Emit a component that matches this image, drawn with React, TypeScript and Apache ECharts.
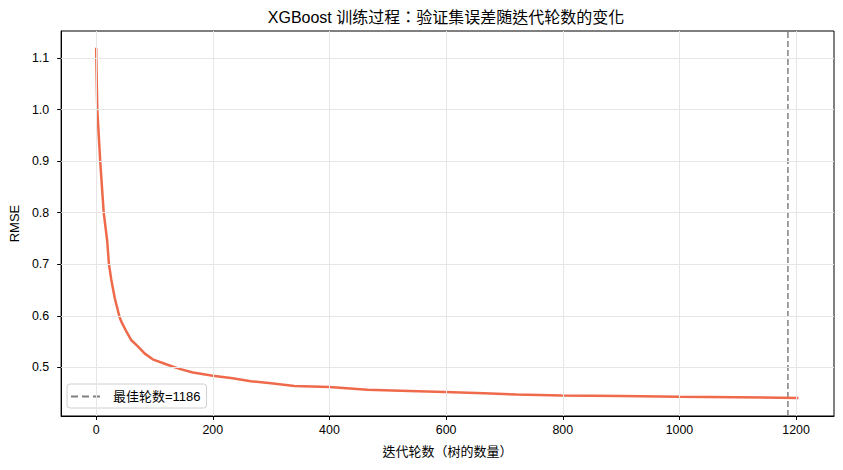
import React, { useEffect, useRef } from "react";
import * as echarts from "echarts";

const iterations = [0, 2, 7, 13, 19, 22, 26, 32, 40, 43, 52, 60, 72, 83, 97, 120, 143, 166, 200, 234, 265, 300, 340, 400, 465, 522, 598, 665, 721, 798, 900, 1000, 1100, 1204];
const rmse = [1.12, 1.0, 0.9, 0.8, 0.745, 0.70, 0.67, 0.634, 0.598, 0.589, 0.569, 0.553, 0.54, 0.527, 0.5155, 0.506, 0.497, 0.49, 0.4837, 0.4786, 0.473, 0.469, 0.4637, 0.4617, 0.4565, 0.4546, 0.452, 0.4495, 0.447, 0.4455, 0.4445, 0.443, 0.442, 0.4404];
const xTicks = [0, 200, 400, 600, 800, 1000, 1200];
const yTicks = [0.5, 0.6, 0.7, 0.8, 0.9, 1.0, 1.1];
const bestRound = 1186;
const bestLabel = "最佳轮数=1186";
const titleText = "XGBoost 训练过程：验证集误差随迭代轮数的变化";
const xName = "迭代轮数（树的数量）";
const yName = "RMSE";
const xRange = [-60, 1265];
const yRange = [0.4055, 1.1525];

const FONT = "Liberation Sans, Arial, Noto Sans CJK TC, Noto Sans CJK SC, sans-serif";
const FS = 12.4;

export default function App() {
  const ref = useRef<HTMLDivElement>(null);
  useEffect(() => {
    if (!ref.current) return;
    const chart = echarts.init(ref.current, null, { renderer: "svg" });
    const lineData = iterations.map((x, i) => [x, rmse[i]]);
    const gridLines = [
      ...xTicks.map((v) => ({ xAxis: v })),
      ...yTicks.map((v) => ({ yAxis: v })),
    ];
    chart.setOption({
      animation: false,
      backgroundColor: "#fff",
      textStyle: { fontFamily: FONT },
      grid: {
        left: 60,
        right: 9,
        top: 31,
        bottom: 54,
        show: true,
        borderColor: "#000",
        borderWidth: 1,
        backgroundColor: "transparent",
      },
      graphic: [
        {
          type: "text",
          x: 446,
          y: 17,
          style: {
            text: titleText,
            fill: "#000",
            fontSize: 16,
            fontFamily: FONT,
            textAlign: "center",
            textVerticalAlign: "middle",
          },
        },
      ],
      legend: {
        data: [
          {
            name: bestLabel,
            icon: "path://M0 0h7v2h-7z M11 0h7v2h-7z M22 0h7v2h-7z",
          },
        ],
        left: 67,
        top: 384,
        orient: "vertical",
        backgroundColor: "#fff",
        borderColor: "#d0d0d0",
        borderWidth: 1,
        borderRadius: 3,
        padding: [6, 6, 5, 4],
        itemWidth: 29,
        itemHeight: 2,
        itemGap: 4,
        textStyle: { fontSize: 13, color: "#000", fontFamily: FONT, padding: [0, 0, 0, 8] },
      },
      xAxis: {
        type: "value",
        min: xRange[0],
        max: xRange[1],
        name: xName,
        nameLocation: "middle",
        nameGap: 29,
        nameTextStyle: { fontSize: 13, color: "#000", fontFamily: FONT },
        axisLine: { show: true, onZero: false, lineStyle: { color: "#000", width: 1 } },
        axisTick: { show: true, length: 4, customValues: xTicks, lineStyle: { color: "#000" } },
        axisLabel: {
          fontSize: FS,
          color: "#000",
          margin: 8,
          customValues: xTicks,
          formatter: (v: number) => String(v),
        },
        splitLine: { show: false },
      },
      yAxis: {
        type: "value",
        min: yRange[0],
        max: yRange[1],
        name: yName,
        nameLocation: "middle",
        nameGap: 38,
        nameTextStyle: { fontSize: 13, color: "#000", fontFamily: FONT },
        axisLine: { show: true, onZero: false, lineStyle: { color: "#000", width: 1 } },
        axisTick: { show: true, length: 4, customValues: yTicks, lineStyle: { color: "#000" } },
        axisLabel: {
          fontSize: FS,
          color: "#000",
          margin: 12,
          customValues: yTicks,
          formatter: (v: number) => v.toFixed(1),
        },
        splitLine: { show: false },
      },
      series: [
        {
          name: "__grid",
          type: "line",
          data: [[xRange[0], yRange[0]]],
          symbol: "none",
          showSymbol: false,
          lineStyle: { width: 0 },
          silent: true,
          z: 1,
          markLine: {
            silent: true,
            symbol: "none",
            label: { show: false },
            lineStyle: { color: "#e6e6e6", width: 1, type: "solid" },
            emphasis: { disabled: true },
            data: gridLines,
          },
        },
        {
          name: "RMSE",
          type: "line",
          data: lineData,
          showSymbol: false,
          symbol: "none",
          lineStyle: { color: "#EE6A4B", width: 2.5 },
          itemStyle: { color: "#EE6A4B" },
          z: 3,
        },
        {
          name: bestLabel,
          type: "line",
          data: [
            [bestRound, yRange[0]],
            [bestRound, yRange[1]],
          ],
          symbol: "none",
          showSymbol: false,
          lineStyle: { color: "#808080", width: 1.5, type: [6, 3] },
          itemStyle: { color: "#808080" },
          z: 2,
        },
      ],
    });
    return () => chart.dispose();
  }, []);
  return <div ref={ref} style={{ position: "fixed", left: 0, top: 0, width: 843, height: 470 }} />;
}
